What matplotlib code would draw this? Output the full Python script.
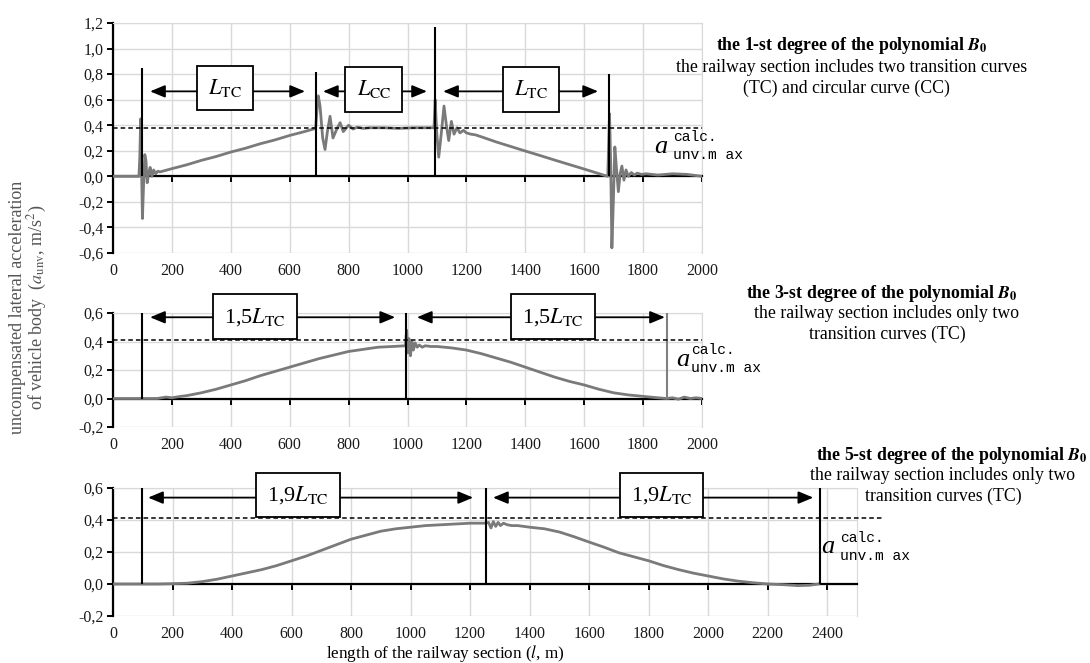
import matplotlib
matplotlib.use('Agg')
import matplotlib.pyplot as plt

plt.rcParams['font.family'] = ['Liberation Serif', 'DejaVu Serif']
plt.rcParams['mathtext.fontset'] = 'stix'

# ---- data ----
# top panel: 1-st degree polynomial (TC + CC + TC)
top_x = [0, 88, 91, 94, 97, 100, 104, 108, 112, 116, 121, 126, 132, 138, 145, 152, 160,
         200, 250, 300, 350, 400, 450, 500, 550, 600, 650,
         688, 692, 697, 703, 712, 720, 728, 737, 747, 758, 771, 782, 800, 815, 830, 850, 870,
         920, 970, 1020, 1060,
         1090, 1094, 1099, 1106, 1114, 1124, 1132, 1140, 1149, 1158, 1168, 1178, 1190, 1200,
         1215, 1230, 1250, 1300, 1350, 1400, 1450, 1500, 1550, 1600, 1650, 1680,
         1686, 1690, 1694, 1699, 1704, 1710, 1716, 1722, 1728, 1735, 1742, 1750, 1760, 1770,
         1780, 1795, 1810, 1850, 1900, 1950, 2000]
top_y = [0, 0, 0.15, 0.45, 0.05, -0.33, -0.05, 0.17, 0.12, -0.05, 0.02, 0.07, 0.0, 0.05, 0.02, 0.04, 0.035,
         0.06, 0.09, 0.125, 0.155, 0.19, 0.22, 0.255, 0.285, 0.32, 0.35,
         0.375, 0.5, 0.63, 0.55, 0.3, 0.21, 0.35, 0.47, 0.30, 0.36, 0.42, 0.35, 0.40, 0.37, 0.385, 0.375, 0.38,
         0.38, 0.375, 0.38, 0.38,
         0.38, 0.6, 0.35, 0.15, 0.32, 0.55, 0.40, 0.28, 0.43, 0.33, 0.38, 0.34, 0.36, 0.34,
         0.33, 0.325, 0.31, 0.27, 0.234, 0.198, 0.163, 0.127, 0.092, 0.057, 0.021, 0.0,
         0.49, 0.1, -0.56, -0.2, 0.23, 0.05, -0.12, 0.02, 0.08, -0.03, 0.05, 0.0, 0.03, 0.01,
         0.025, 0.015, 0.02, 0.01, 0.02, 0.015, 0.0]
top_bound_x = [97, 689, 1093, 1685]
top_bound_h = [0.85, 0.82, 1.17, 0.80]
top_level = 0.375

# middle panel: 3-rd degree polynomial (TC + TC)
mid_x = [0, 95, 100, 150, 180, 200, 230, 250, 300, 350,
         400, 450, 500, 550, 600, 650, 700, 750, 800, 850,
         900, 950, 993, 997, 1001, 1005, 1010, 1015, 1020, 1026,
         1033, 1040, 1050, 1060, 1080, 1100, 1150, 1200, 1250, 1300,
         1350, 1400, 1450, 1500, 1550, 1600, 1650, 1700, 1750, 1800,
         1850, 1880, 1900, 1920, 1940, 1960, 1980, 2000]
mid_y = [0, 0, 0, 0.0, 0.01, 0.005, 0.015, 0.02, 0.04, 0.065,
         0.095, 0.125, 0.16, 0.19, 0.22, 0.25, 0.28, 0.305, 0.33, 0.345,
         0.36, 0.365, 0.37, 0.48, 0.32, 0.42, 0.30, 0.40, 0.34, 0.39,
         0.36, 0.375, 0.36, 0.37, 0.365, 0.365, 0.355, 0.34, 0.315, 0.285,
         0.255, 0.22, 0.185, 0.15, 0.12, 0.095, 0.065, 0.04, 0.025, 0.015,
         0.005, 0.0, 0.005, -0.005, 0.01, 0.0, 0.005, 0.0]
mid_bound_x = [98, 995, 1881]
mid_bound_h = [0.76, 0.73, 0.75]
mid_level = 0.41

# bottom panel: 5-th degree polynomial (TC + TC)
bot_x = [0, 95, 100, 150, 200, 250, 300, 350, 400, 450,
         500, 550, 600, 650, 700, 750, 800, 850, 900, 950,
         1000, 1050, 1100, 1150, 1200, 1250, 1262, 1270, 1278, 1286,
         1294, 1302, 1312, 1325, 1340, 1360, 1400, 1450, 1500, 1550,
         1600, 1650, 1700, 1750, 1800, 1850, 1900, 1950, 2000, 2050,
         2100, 2150, 2200, 2250, 2300, 2340, 2370]
bot_y = [0, 0, 0, 0.0, 0.002, 0.005, 0.015, 0.03, 0.05, 0.07,
         0.09, 0.115, 0.145, 0.175, 0.21, 0.245, 0.28, 0.305, 0.33, 0.345,
         0.355, 0.365, 0.37, 0.375, 0.38, 0.38, 0.385, 0.35, 0.39, 0.36,
         0.385, 0.365, 0.38, 0.37, 0.365, 0.365, 0.355, 0.345, 0.325, 0.295,
         0.262, 0.23, 0.195, 0.17, 0.145, 0.115, 0.09, 0.068, 0.05, 0.032,
         0.018, 0.008, 0.0, -0.004, -0.01, -0.008, 0.0]
bot_bound_x = [97, 1254, 2376]
bot_bound_h = [0.69, 0.65, 0.69]
bot_level = 0.41

xticks_2000 = [0, 200, 400, 600, 800, 1000, 1200, 1400, 1600, 1800, 2000]
xticks_2400 = [0, 200, 400, 600, 800, 1000, 1200, 1400, 1600, 1800, 2000, 2200, 2400]
yticks_top = [-0.6, -0.4, -0.2, 0.0, 0.2, 0.4, 0.6, 0.8, 1.0, 1.2]
ylabels_top = ['-0,6', '-0,4', '-0,2', '0,0', '0,2', '0,4', '0,6', '0,8', '1,0', '1,2']
yticks_small = [-0.2, 0.0, 0.2, 0.4, 0.6]
ylabels_small = ['-0,2', '0,0', '0,2', '0,4', '0,6']

W, H = 1090, 663
fig = plt.figure(figsize=(W / 100, H / 100), dpi=100)


def px(x, y):
    return x / W, 1 - y / H


def rect(l, t, r, b):
    return [l / W, 1 - b / H, (r - l) / W, (b - t) / H]


def style(ax, xmax, xticks, ylim, yticks, ylabels):
    ax.set_xlim(0, xmax)
    ax.set_ylim(*ylim)
    ax.set_xticks(xticks)
    ax.set_yticks(yticks, ylabels)
    ax.grid(True, color='#d9d9d9', lw=1)
    ax.set_axisbelow(True)
    for s in ('top', 'right'):
        ax.spines[s].set_color('#d9d9d9')
    ax.spines['left'].set_linewidth(1.6)
    ax.spines['bottom'].set_position(('data', 0))
    ax.spines['bottom'].set_linewidth(1.6)
    ax.tick_params(axis='x', direction='out', length=4, width=1.4, labelbottom=False)
    ax.tick_params(axis='y', direction='out', length=4, width=1.4, labelsize=11.5,
                   pad=3, labelcolor='#1a1a1a')
    sec = ax.secondary_xaxis('bottom')
    sec.set_xticks(xticks, [str(v) for v in xticks])
    sec.tick_params(length=0, pad=7, labelsize=11.5, labelcolor='#1a1a1a')
    sec.spines['bottom'].set_visible(False)


def span(ax, x0, x1, y, label, lx, ly):
    ax.annotate('', xy=(x0, y), xytext=(x1, y),
                arrowprops=dict(arrowstyle='<|-|>,head_length=0.6,head_width=0.25',
                                mutation_scale=15, lw=1.3, color='k',
                                shrinkA=0, shrinkB=0))
    ax.text(lx, ly, label, ha='center', va='center', fontsize=16, zorder=6,
            bbox=dict(boxstyle='square,pad=0.5', fc='white', ec='k', lw=1.3))


def amark(x, y, cx, cy):
    fig.text(*px(x, y), 'a', fontstyle='italic', fontsize=19, ha='center', va='center')
    fig.text(*px(cx, cy), 'calc.', family='Liberation Mono', fontsize=10.5, ha='left', va='center')
    fig.text(*px(cx, cy + 18), 'unv.m ax', family='Liberation Mono', fontsize=10.5, ha='left', va='center')


curve = dict(color='#7a7a7a', lw=2, zorder=3)
dash = dict(colors='k', linestyles=(0, (3, 2)), lw=1.1, zorder=4)

# top
ax1 = fig.add_axes(rect(113, 23, 702, 253))
style(ax1, 2000, xticks_2000, (-0.6, 1.2), yticks_top, ylabels_top)
ax1.plot(top_x, top_y, **curve)
ax1.vlines(top_bound_x, 0, top_bound_h, colors='k', lw=1.5, zorder=4)
ax1.hlines(top_level, 0, 2000, **dash)
span(ax1, 126, 652, 0.665, r'$L_{\rm TC}$', 380, 0.69)
span(ax1, 713, 1066, 0.665, r'$L_{\rm CC}$', 886, 0.68)
span(ax1, 1121, 1647, 0.665, r'$L_{\rm TC}$', 1420, 0.68)
amark(661, 147, 673, 137)

# middle
ax2 = fig.add_axes(rect(113, 313, 702, 427))
style(ax2, 2000, xticks_2000, (-0.2, 0.6), yticks_small, ylabels_small)
ax2.plot(mid_x, mid_y, **curve)
ax2.vlines(mid_bound_x, 0, mid_bound_h, colors=['k', 'k', '#808080'], lw=1.5, zorder=4)
ax2.hlines(mid_level, 0, 2000, **dash)
span(ax2, 126, 958, 0.57, r'1,5$L_{\rm TC}$', 482, 0.575)
span(ax2, 1032, 1874, 0.57, r'1,5$L_{\rm TC}$', 1494, 0.575)
amark(683, 360, 691, 350)

# bottom
ax3 = fig.add_axes(rect(113, 488, 857, 616))
style(ax3, 2500, xticks_2400, (-0.2, 0.6), yticks_small, ylabels_small)
ax3.plot(bot_x, bot_y, **curve)
ax3.vlines(bot_bound_x, 0, bot_bound_h, colors='k', lw=1.5, zorder=4)
ax3.hlines(bot_level, 0, 2585, clip_on=False, **dash)
span(ax3, 118, 1210, 0.54, r'1,9$L_{\rm TC}$', 622, 0.555)
span(ax3, 1277, 2353, 0.54, r'1,9$L_{\rm TC}$', 1843, 0.555)
amark(828, 547, 840, 538)

# right-hand descriptions
B0 = r'$\mathbfit{B}_{\mathbf{0}}$'
fs = 12.8
fig.text(*px(852, 45), 'the 1-st degree of the polynomial ' + B0, fontsize=fs, fontweight='bold', ha='center', va='center')
fig.text(*px(852, 67), 'the railway section includes two transition curves', fontsize=fs, ha='center', va='center')
fig.text(*px(846, 88), '(TC) and circular curve (CC)', fontsize=fs, ha='center', va='center')

fig.text(*px(882, 293), 'the 3-st degree of the polynomial ' + B0, fontsize=fs, fontweight='bold', ha='center', va='center')
fig.text(*px(887, 314), 'the railway section includes only two', fontsize=fs, ha='center', va='center')
fig.text(*px(887, 334), 'transition curves (TC)', fontsize=fs, ha='center', va='center')

fig.text(*px(952, 456), 'the 5-st degree of the polynomial ' + B0, fontsize=fs, fontweight='bold', ha='center', va='center')
fig.text(*px(943, 475), 'the railway section includes only two', fontsize=fs, ha='center', va='center')
fig.text(*px(943, 496), 'transition curves (TC)', fontsize=fs, ha='center', va='center')

fig.text(*px(29, 307), 'uncompensated lateral acceleration\nof vehicle body  ($a_{\\rm unv}$, m/s$^2$)',
         rotation=90, fontsize=13, color='#555555', ha='center', va='center',
         multialignment='center', linespacing=0.95)
fig.text(*px(445, 653), 'length of the railway section ($l$, m)', fontsize=12.3, ha='center', va='center')

fig.savefig('out.png', dpi=100)
